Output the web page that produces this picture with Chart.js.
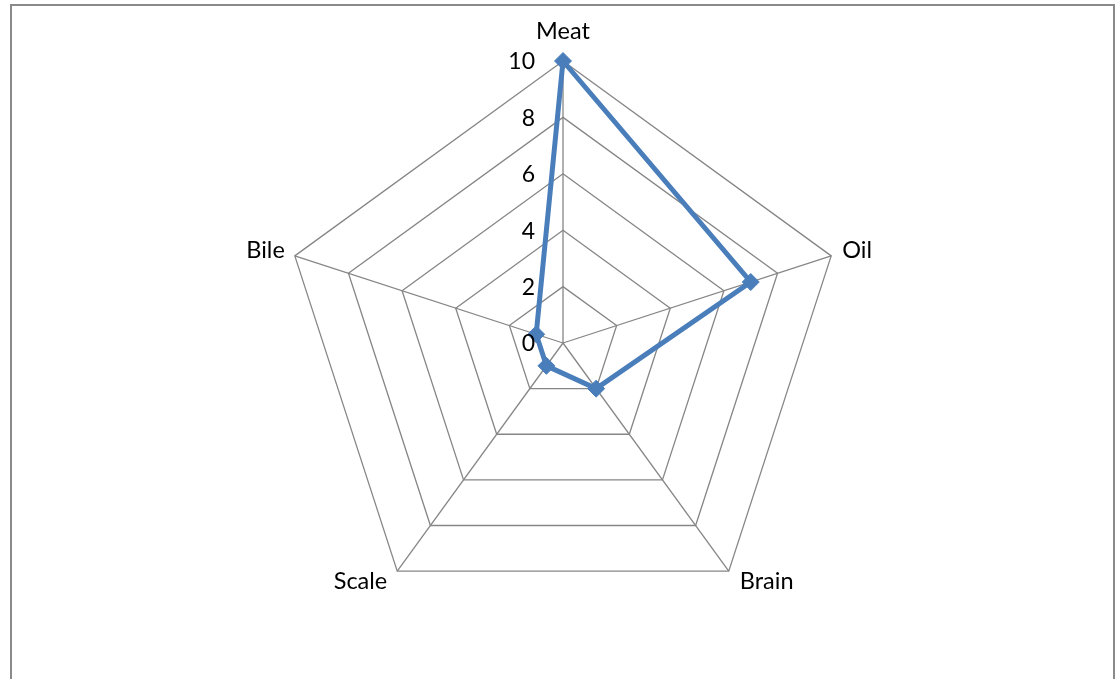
<!DOCTYPE html>
<html>
<head>
<meta charset="utf-8">
<script src="https://cdn.jsdelivr.net/npm/chart.js@4/dist/chart.umd.min.js"></script>
<style>
  html, body { margin: 0; padding: 0; background: #fff; overflow: hidden; }
  #wrap { position: relative; width: 1115px; height: 679px; }
  #frame { position: absolute; left: 10px; top: 4px; width: 1105px; height: 720px;
           border: 2px solid #8a8a8a; box-sizing: border-box; }
  #c { position: absolute; left: 0; top: 0; }
</style>
</head>
<body>
<div id="wrap">
  <div id="frame"></div>
  <canvas id="c" width="1115" height="679"></canvas>
</div>
<script>
// Radar categories and the single series
const categories = ['Meat', 'Oil', 'Brain', 'Scale', 'Bile'];
const values = [10, 7, 2, 1, 1];
// Radial axis range and tick labels
const axisMin = 0;
const axisMax = 10;
const tickStep = 2;
const tickLabels = ['0', '2', '4', '6', '8', '10'];

const LABEL_FONT = '23.5px Lato, "Open Sans", sans-serif';
const TICK_FONT = '23px Lato, "Open Sans", sans-serif';
const GRID = '#868686';
const SERIES = '#4A7EBB';

// Draws the tick numbers beside the first spoke and the category names at the polygon corners
const labelPlugin = {
  id: 'radarText',
  afterDraw(chart) {
    const scale = chart.scales.r;
    const ctx = chart.ctx;
    const cx = scale.xCenter, cy = scale.yCenter;
    ctx.save();
    ctx.fillStyle = '#000';

    // tick numbers, right aligned just left of the top spoke
    ctx.font = TICK_FONT;
    ctx.textAlign = 'right';
    ctx.textBaseline = 'middle';
    tickLabels.forEach((t, i) => {
      const v = axisMin + i * tickStep;
      const p = scale.getPointPositionForValue(0, v);
      ctx.fillText(t, p.x - 28, p.y + 1);
    });

    // category names
    ctx.font = LABEL_FONT;
    categories.forEach((name, i) => {
      const p = scale.getPointPosition(i, scale.drawingArea);
      let x = p.x, y = p.y;
      if (Math.abs(p.x - cx) < 5) {
        ctx.textAlign = 'center';
        y -= 30;
      } else if (p.x > cx) {
        ctx.textAlign = 'left';
        x += 11;
        y += (p.y < cy) ? -5 : 10;
      } else {
        ctx.textAlign = 'right';
        x -= 10;
        y += (p.y < cy) ? -5 : 10;
      }
      ctx.textBaseline = 'middle';
      ctx.fillText(name, x, y);
    });
    ctx.restore();
  }
};

new Chart(document.getElementById('c'), {
  type: 'radar',
  data: {
    labels: categories,
    datasets: [{
      data: values,
      borderColor: SERIES,
      backgroundColor: 'rgba(0,0,0,0)',
      fill: false,
      borderWidth: 5,
      tension: 0,
      pointStyle: 'rectRot',
      pointRadius: 8.5,
      pointBackgroundColor: SERIES,
      pointBorderColor: SERIES,
      pointBorderWidth: 1
    }]
  },
  options: {
    responsive: false,
    animation: false,
    devicePixelRatio: 1,
    layout: { padding: { left: 281, right: 269, top: 61, bottom: 53 } },
    plugins: { legend: { display: false }, tooltip: { enabled: false } },
    scales: {
      r: {
        min: axisMin,
        max: axisMax,
        ticks: { stepSize: tickStep, display: false },
        grid: { color: GRID, lineWidth: 1.3, circular: false },
        angleLines: { color: GRID, lineWidth: 1.3 },
        pointLabels: { display: false }
      }
    }
  },
  plugins: [labelPlugin]
});
</script>
</body>
</html>
